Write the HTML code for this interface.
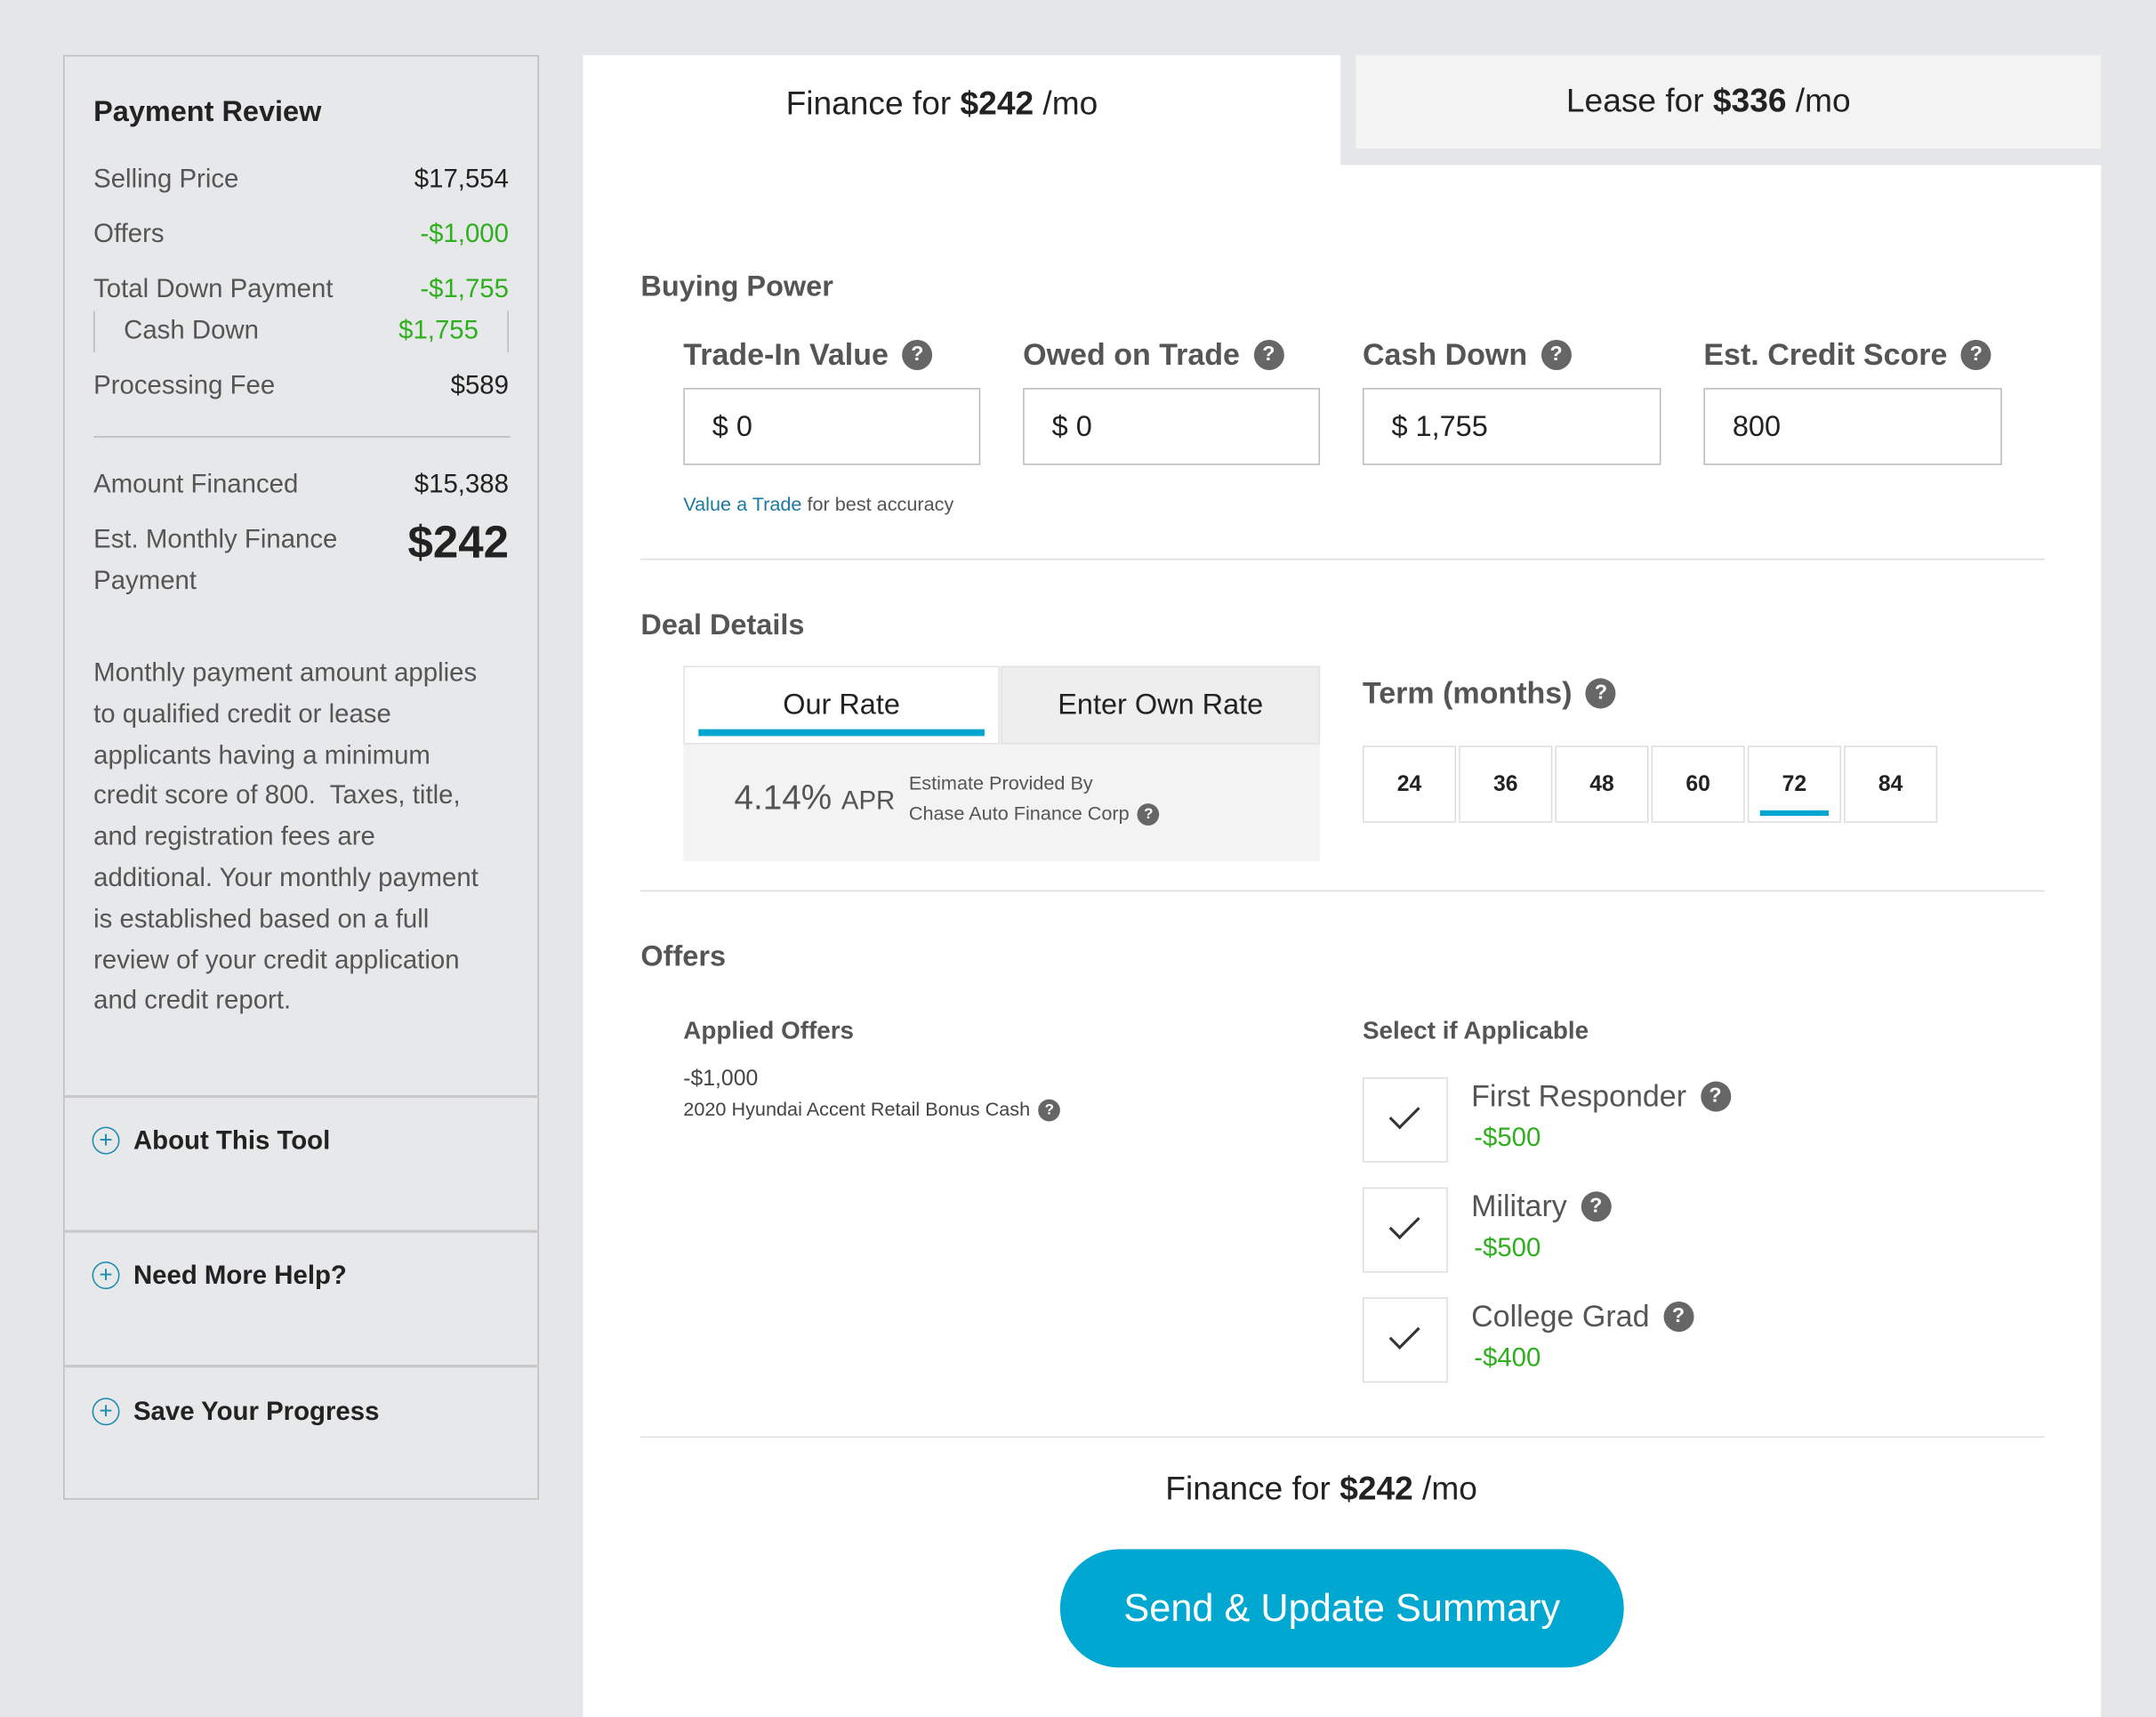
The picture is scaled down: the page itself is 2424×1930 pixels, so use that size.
<!DOCTYPE html>
<html><head><meta charset="utf-8"><style>
html,body{margin:0;padding:0;width:2424px;height:1930px;overflow:hidden;background:#e5e6e8;}
#s{position:absolute;left:0;top:0;width:1568px;height:1248px;transform:scale(1.5459,1.5465);transform-origin:0 0;font-family:"Liberation Sans",sans-serif;color:#222;}
.a{position:absolute;white-space:nowrap;}
.l{color:#555;font-size:19px;}
.v{color:#222;font-size:19px;text-align:right;}
.g{color:#2fae1f;}
.q{display:inline-block;width:22px;height:22px;border-radius:50%;background:#666;color:#fff;font-size:15px;font-weight:bold;text-align:center;line-height:22px;vertical-align:3px;margin-left:10px;}
.qs{width:16px;height:16px;font-size:11px;line-height:16px;margin-left:6px;vertical-align:1px;}
.h{font-size:21px;font-weight:bold;color:#555;}
.inp{position:absolute;border:1px solid #bbb;background:#fff;height:56px;width:214px;font-size:21px;line-height:56px;padding-left:20px;box-sizing:border-box;color:#222;}
.hr{position:absolute;height:1px;background:#ddd;}
.t{position:absolute;top:542px;width:68px;height:56px;border:1px solid #ddd;background:#fff;box-sizing:border-box;text-align:center;line-height:56px;font-weight:bold;font-size:16px;}
.cb{position:absolute;left:991px;width:62px;height:62px;border:1px solid #ddd;box-sizing:border-box;background:#fff;}
.cb:after{content:"";position:absolute;left:24px;top:15px;width:9px;height:19px;border:solid #333;border-width:0 2px 2px 0;transform:rotate(45deg);}
.plus{display:inline-block;width:18px;height:18px;border:1.5px solid #1a8ab0;border-radius:50%;color:#1a8ab0;font-size:17px;line-height:17px;text-align:center;margin-right:10px;vertical-align:1px;font-weight:normal;}
</style></head><body><div id="s">
<div class="a" style="left:46px;top:40px;width:346px;height:1050px;border:1px solid #bdbdbd;box-sizing:border-box;background:#e7e8ea;"></div>
<div class="a" style="left:68px;top:70px;font-size:21px;font-weight:bold;">Payment Review</div>
<div class="a l" style="left:68px;top:120px;">Selling Price</div><div class="a v" style="right:1198px;top:120px;">$17,554</div>
<div class="a l" style="left:68px;top:160px;">Offers</div><div class="a v g" style="right:1198px;top:160px;">-$1,000</div>
<div class="a l" style="left:68px;top:200px;">Total Down Payment</div><div class="a v g" style="right:1198px;top:200px;">-$1,755</div>
<div class="a" style="left:68px;top:226px;width:1px;height:30px;background:#bbb;"></div>
<div class="a" style="left:369px;top:226px;width:1px;height:30px;background:#bbb;"></div>
<div class="a l" style="left:90px;top:230px;">Cash Down</div><div class="a v g" style="right:1220px;top:230px;">$1,755</div>
<div class="a l" style="left:68px;top:270px;">Processing Fee</div><div class="a v" style="right:1198px;top:270px;">$589</div>
<div class="a" style="left:68px;top:317px;width:303px;height:1px;background:#bbb;"></div>
<div class="a l" style="left:68px;top:342px;">Amount Financed</div><div class="a v" style="right:1198px;top:342px;">$15,388</div>
<div class="a l" style="left:68px;top:378px;line-height:30px;">Est. Monthly Finance<br>Payment</div>
<div class="a" style="right:1198px;top:375px;font-size:33px;font-weight:bold;">$242</div>
<div class="a l" style="left:68px;top:475px;line-height:29.8px;">Monthly payment amount applies<br>to qualified credit or lease<br>applicants having a minimum<br>credit score of 800.&nbsp; Taxes, title,<br>and registration fees are<br>additional. Your monthly payment<br>is established based on a full<br>review of your credit application<br>and credit report.</div>
<div class="a" style="left:46px;top:796px;width:346px;height:2px;background:#c8c8c8;"></div>
<div class="a" style="left:67px;top:819px;font-size:19px;font-weight:bold;"><span class="plus">+</span>About This Tool</div>
<div class="a" style="left:46px;top:894px;width:346px;height:2px;background:#c8c8c8;"></div>
<div class="a" style="left:67px;top:917px;font-size:19px;font-weight:bold;"><span class="plus">+</span>Need More Help?</div>
<div class="a" style="left:46px;top:992px;width:346px;height:2px;background:#c8c8c8;"></div>
<div class="a" style="left:67px;top:1016px;font-size:19px;font-weight:bold;"><span class="plus">+</span>Save Your Progress</div>
<div class="a" style="left:424px;top:40px;width:551px;height:1208px;background:#fff;"></div>
<div class="a" style="left:424px;top:120px;width:1104px;height:1128px;background:#fff;"></div>
<div class="a" style="left:986px;top:40px;width:542px;height:68px;background:#f3f3f3;"></div>
<div class="a" style="left:424px;top:62px;width:522px;text-align:center;font-size:24px;">Finance for <b>$242</b> /mo</div>
<div class="a" style="left:986px;top:60px;width:513px;text-align:center;font-size:24px;">Lease for <b>$336</b> /mo</div>

<div class="a h" style="left:466px;top:197px;">Buying Power</div>
<div class="a h" style="left:497px;top:245px;font-size:22px;">Trade-In Value<span class="q">?</span></div>
<div class="a h" style="left:744px;top:245px;font-size:22px;">Owed on Trade<span class="q">?</span></div>
<div class="a h" style="left:991px;top:245px;font-size:22px;">Cash Down<span class="q">?</span></div>
<div class="a h" style="left:1239px;top:245px;font-size:22px;">Est. Credit Score<span class="q">?</span></div>
<div class="inp" style="left:497px;top:282px;width:216px;">$ 0</div>
<div class="inp" style="left:744px;top:282px;width:216px;">$ 0</div>
<div class="inp" style="left:991px;top:282px;width:217px;">$ 1,755</div>
<div class="inp" style="left:1239px;top:282px;width:217px;">800</div>
<div class="a" style="left:497px;top:358px;font-size:14px;color:#555;"><span style="color:#1a7aa0">Value a Trade</span> for best accuracy</div>
<div class="hr" style="left:466px;top:406px;width:1021px;"></div>

<div class="a h" style="left:466px;top:443px;">Deal Details</div>
<div class="a" style="left:497px;top:484px;width:463px;height:142px;background:#f3f3f3;"></div>
<div class="a" style="left:497px;top:484px;width:230px;height:57px;background:#fff;border:1px solid #e2e2e2;box-sizing:border-box;"></div>
<div class="a" style="left:728px;top:484px;width:232px;height:57px;background:#eeeeee;border:1px solid #e2e2e2;box-sizing:border-box;"></div>
<div class="a" style="left:508px;top:530px;width:208px;height:5px;background:#00a6cf;"></div>
<div class="a" style="left:497px;top:501px;width:230px;text-align:center;font-size:21px;">Our Rate</div>
<div class="a" style="left:728px;top:501px;width:232px;text-align:center;font-size:21px;">Enter Own Rate</div>
<div class="a" style="left:534px;top:566px;font-size:25px;color:#555;">4.14% <span style="font-size:19px">APR</span></div>
<div class="a" style="left:661px;top:558px;font-size:14px;color:#555;line-height:22px;">Estimate Provided By<br>Chase Auto Finance Corp<span class="q qs">?</span></div>
<div class="a h" style="left:991px;top:491px;font-size:22px;">Term (months)<span class="q">?</span></div>
<div class="t" style="left:991px;">24</div><div class="t" style="left:1061px;">36</div><div class="t" style="left:1131px;">48</div><div class="t" style="left:1201px;">60</div><div class="t" style="left:1271px;">72</div><div class="t" style="left:1341px;">84</div>
<div class="a" style="left:1280px;top:589px;width:50px;height:4px;background:#00a6cf;"></div>
<div class="hr" style="left:466px;top:647px;width:1021px;"></div>

<div class="a h" style="left:466px;top:684px;">Offers</div>
<div class="a h" style="left:497px;top:739px;font-size:18px;">Applied Offers</div>
<div class="a" style="left:497px;top:776px;font-size:16px;color:#444;">-$1,000</div>
<div class="a" style="left:497px;top:798px;font-size:14px;color:#444;">2020 Hyundai Accent Retail Bonus Cash<span class="q qs">?</span></div>
<div class="a h" style="left:991px;top:739px;font-size:18px;">Select if Applicable</div>
<div class="cb" style="top:783px;"></div><div class="cb" style="top:863px;"></div><div class="cb" style="top:943px;"></div>
<div class="a" style="left:1070px;top:784px;font-size:22px;color:#555;">First Responder<span class="q">?</span></div>
<div class="a g" style="left:1072px;top:817px;font-size:19px;">-$500</div>
<div class="a" style="left:1070px;top:864px;font-size:22px;color:#555;">Military<span class="q">?</span></div>
<div class="a g" style="left:1072px;top:897px;font-size:19px;">-$500</div>
<div class="a" style="left:1070px;top:944px;font-size:22px;color:#555;">College Grad<span class="q">?</span></div>
<div class="a g" style="left:1072px;top:977px;font-size:19px;">-$400</div>
<div class="hr" style="left:466px;top:1044px;width:1021px;"></div>

<div class="a" style="left:466px;top:1069px;width:990px;text-align:center;font-size:24px;">Finance for <b>$242</b> /mo</div>
<div class="a" style="left:771px;top:1126px;width:410px;height:86px;border-radius:43px;background:#00a7d1;color:#fff;font-size:28px;text-align:center;line-height:86px;">Send &amp; Update Summary</div>
</div></body></html>
